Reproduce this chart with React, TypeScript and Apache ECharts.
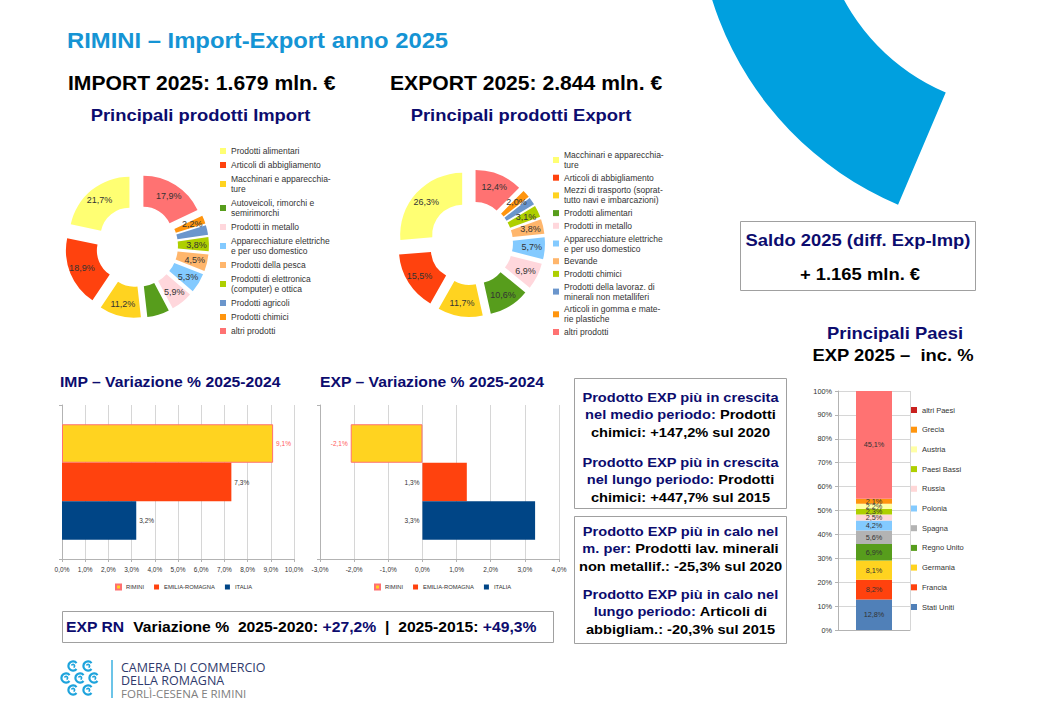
import React, { useEffect, useRef } from "react";
import * as echarts from "echarts";

const FONT = "'Liberation Sans', Arial, Helvetica, sans-serif";
const NAVY = "#0c0c6e";
const SX = 1.083;

// ---- Import products (legend order) ----
const importProducts = [
  "Prodotti alimentari",
  "Articoli di abbigliamento",
  "Macchinari e apparecchiature",
  "Autoveicoli, rimorchi e semirimorchi",
  "Prodotti in metallo",
  "Apparecchiature elettriche e per uso domestico",
  "Prodotti della pesca",
  "Prodotti di elettronica (computer) e ottica",
  "Prodotti agricoli",
  "Prodotti chimici",
  "altri prodotti",
];
const importShares = [21.7, 18.9, 11.2, 6.0, 5.9, 5.3, 4.5, 3.8, 2.6, 2.2, 17.9];

// ---- Export products (legend order) ----
const exportProducts = [
  "Macchinari e apparecchiature",
  "Articoli di abbigliamento",
  "Mezzi di trasporto (soprattutto navi e imbarcazioni)",
  "Prodotti alimentari",
  "Prodotti in metallo",
  "Apparecchiature elettriche e per uso domestico",
  "Bevande",
  "Prodotti chimici",
  "Prodotti della lavoraz. di minerali non metalliferi",
  "Articoli in gomma e materie plastiche",
  "altri prodotti",
];
const exportShares = [26.3, 15.5, 11.7, 10.6, 6.9, 5.7, 3.8, 3.1, 2.0, 2.0, 12.4];

const productColors = [
  "#ffff73", "#ff420e", "#ffd320", "#579d1c", "#ffd7dc", "#83caff",
  "#ffb66c", "#aecf00", "#6b96cc", "#ff950e", "#ff7272",
];

const legendWrap: Record<string, string> = {
  "Macchinari e apparecchiature": "Macchinari e apparecchia-\nture",
  "Autoveicoli, rimorchi e semirimorchi": "Autoveicoli, rimorchi e\nsemirimorchi",
  "Apparecchiature elettriche e per uso domestico": "Apparecchiature elettriche\ne per uso domestico",
  "Prodotti di elettronica (computer) e ottica": "Prodotti di elettronica\n(computer) e ottica",
  "Mezzi di trasporto (soprattutto navi e imbarcazioni)": "Mezzi di trasporto (soprat-\ntutto navi e imbarcazioni)",
  "Prodotti della lavoraz. di minerali non metalliferi": "Prodotti della lavoraz. di\nminerali non metalliferi",
  "Articoli in gomma e materie plastiche": "Articoli in gomma e mate-\nrie plastiche",
};

// ---- Variazione % 2025-2024 ----
const areas = ["RIMINI", "EMILIA-ROMAGNA", "ITALIA"];
const areaColors = ["#ffd320", "#ff420e", "#004586"];
const impVariation = [9.1, 7.3, 3.2];
const expVariation = [-2.1, 1.3, 3.3];
const periodCategory = ["2025/2024"];

// ---- Principali Paesi EXP 2025 ----
const countries = [
  "Stati Uniti", "Francia", "Germania", "Regno Unito", "Spagna", "Polonia",
  "Russia", "Paesi Bassi", "Austria", "Grecia", "altri Paesi",
];
const countryShares = [12.8, 8.2, 8.1, 6.9, 5.6, 4.2, 2.5, 2.3, 2.2, 2.1, 45.1];
const countryColors = [
  "#5080b8", "#ff420e", "#ffd320", "#579d1c", "#b3b3b3", "#83caff",
  "#ffd7d7", "#aecf00", "#ffffa6", "#ff950e", "#ff7272",
];
const countryLegendColors = [
  "#5080b8", "#ff420e", "#ffd320", "#579d1c", "#b3b3b3", "#83caff",
  "#ffd7d7", "#aecf00", "#ffffa6", "#ff950e", "#c9211e",
];
const countryCategory = ["EXP 2025"];

const pct = (v: number) => v.toFixed(1).replace(".", ",") + "%";

function txt(x: number, y: number, text: string, size: number, fill: string, align = "left", extra: any = {}) {
  return {
    type: "text",
    x,
    y,
    scaleX: SX,
    silent: true,
    style: {
      text,
      fontSize: size,
      fontWeight: "bold",
      fontFamily: FONT,
      fill,
      align,
      verticalAlign: "middle",
      ...extra,
    },
  };
}

function richPara(x: number, y: number, text: string, size: number, lh: number, align = "center") {
  const base = { fontSize: size, fontWeight: "bold", fontFamily: FONT, lineHeight: lh };
  return {
    type: "text",
    x,
    y,
    scaleX: SX,
    silent: true,
    style: {
      text,
      ...base,
      fill: "#000",
      align,
      verticalAlign: "top",
      rich: {
        n: { ...base, fill: NAVY },
        k: { ...base, fill: "#000" },
      },
    },
  };
}

const LOGO = "#1da3dc";
function swirl(cx: number, cy: number, rot: number) {
  return [
    {
      type: "arc",
      silent: true,
      shape: { cx, cy, r: 4.6, startAngle: rot + 0.7, endAngle: rot + 5.6 },
      style: { stroke: LOGO, lineWidth: 2.2, fill: "none" },
    },
    {
      type: "arc",
      silent: true,
      shape: { cx, cy, r: 1.6, startAngle: rot + 3.5, endAngle: rot + 7.5 },
      style: { stroke: LOGO, lineWidth: 1.6, fill: "none" },
    },
  ];
}

function pieSeries(names: string[], values: number[], center: number[], radius: number[]) {
  const data = names
    .map((n, i) => ({ name: n, value: values[i], selected: true, itemStyle: { color: productColors[i] } }))
    .reverse();
  return {
    type: "pie",
    center,
    radius,
    startAngle: 90,
    clockwise: true,
    selectedMode: "multiple",
    selectedOffset: 12,
    avoidLabelOverlap: false,
    label: {
      show: true,
      position: "inside",
      formatter: (p: any) => pct(p.value),
      fontSize: 9,
      fontFamily: FONT,
      color: "#333",
    },
    labelLine: { show: false },
    emphasis: { disabled: true },
    data,
  };
}

function pieLegend(names: string[], left: number, top: number, gap: number) {
  return {
    orient: "vertical",
    left,
    top,
    padding: 0,
    itemWidth: 6,
    itemHeight: 6,
    itemGap: gap,
    icon: "rect",
    selectedMode: false,
    textStyle: { fontSize: 8.5, fontFamily: FONT, color: "#333", lineHeight: 10 },
    formatter: (n: string) => legendWrap[n] || n,
    data: names.map((n, i) => ({ name: n, itemStyle: { color: productColors[i] } })),
  };
}

const axisGray = "#b3b3b3";
const gridGray = "#d6d6d6";

function varSeries(values: number[], xi: number, labelPos: string) {
  return areas.map((a, i) => ({
    type: "bar",
    name: a,
    xAxisIndex: xi,
    yAxisIndex: xi,
    barGap: "0%",
    barCategoryGap: "25%",
    itemStyle:
      i === 0
        ? { color: areaColors[i], borderColor: "#ff7070", borderWidth: 1 }
        : { color: areaColors[i] },
    label: {
      show: true,
      position: labelPos,
      formatter: (p: any) => pct(p.value),
      fontSize: 6.5,
      fontFamily: FONT,
      color: i === 0 ? "#ff5a5a" : "#333",
      distance: 3,
    },
    emphasis: { disabled: true },
    data: [values[i]],
  }));
}

function valueXAxis(gridIndex: number, min: number, max: number) {
  return {
    type: "value",
    gridIndex,
    min,
    max,
    interval: 1,
    axisLine: { show: true, onZero: false, lineStyle: { color: axisGray } },
    axisTick: { show: true, length: 3, lineStyle: { color: axisGray } },
    axisLabel: { fontSize: 6.5, fontFamily: FONT, color: "#333", margin: 7, formatter: (v: number) => pct(v) },
    splitLine: { show: true, lineStyle: { color: gridGray } },
  };
}

function catYAxis(gridIndex: number) {
  return {
    type: "category",
    gridIndex,
    data: periodCategory,
    inverse: true,
    axisLine: { show: true, onZero: false, lineStyle: { color: axisGray } },
    axisTick: { show: true, length: 3, lineStyle: { color: axisGray } },
    axisLabel: { show: false },
  };
}

function barLegend(left: number) {
  return {
    orient: "horizontal",
    left,
    top: 583,
    padding: 0,
    itemWidth: 5,
    itemHeight: 5,
    itemGap: 10,
    icon: "rect",
    selectedMode: false,
    textStyle: { fontSize: 5.8, fontFamily: FONT, color: "#333", lineHeight: 8 },
    data: areas,
  };
}

export default function App() {
  const ref = useRef<HTMLDivElement>(null);

  useEffect(() => {
    if (!ref.current) return;
    const chart = echarts.init(ref.current, undefined, { renderer: "svg" });

    const graphics: any[] = [
      // top-right decorative arc
      {
        type: "sector",
        silent: true,
        shape: {
          cx: 1027,
          cy: -99,
          r: 330,
          r0: 208,
          startAngle: (113 * Math.PI) / 180,
          endAngle: (205 * Math.PI) / 180,
          clockwise: true,
        },
        style: { fill: "#00a0df" },
      },
      txt(67, 40, "RIMINI – Import-Export anno 2025", 22, "#1594d4"),
      txt(68, 83, "IMPORT 2025: 1.679 mln. €", 19.5, "#000"),
      txt(390, 83, "EXPORT 2025: 2.844 mln. €", 19.5, "#000"),
      txt(200.5, 115, "Principali prodotti Import", 17, NAVY, "center"),
      txt(521, 115, "Principali prodotti Export", 17, NAVY, "center"),
      // saldo box
      {
        type: "rect",
        silent: true,
        shape: { x: 740.5, y: 221.5, width: 235, height: 69 },
        style: { fill: "none", stroke: "#a0a0a0", lineWidth: 1 },
      },
      txt(858, 240, "Saldo 2025 (diff. Exp-Imp)", 17, NAVY, "center"),
      txt(860, 274, "+ 1.165 mln. €", 17, "#000", "center"),
      txt(895, 333, "Principali Paesi", 17, NAVY, "center"),
      txt(893, 355, "EXP 2025 –  inc. %", 17, "#000", "center"),
      txt(60, 382, "IMP – Variazione % 2025-2024", 14.5, NAVY),
      txt(320, 382, "EXP – Variazione % 2025-2024", 14.5, NAVY),
      // text boxes
      {
        type: "rect",
        silent: true,
        shape: { x: 574.5, y: 378.5, width: 212, height: 130 },
        style: { fill: "none", stroke: "#a0a0a0", lineWidth: 1 },
      },
      {
        type: "rect",
        silent: true,
        shape: { x: 574.5, y: 516.5, width: 212, height: 127 },
        style: { fill: "none", stroke: "#a0a0a0", lineWidth: 1 },
      },
      richPara(680.5, 388, "{n|Prodotto EXP più in crescita}\n{n|nel medio periodo:}{k| Prodotti}\n{k|chimici: +147,2% sul 2020}", 13.5, 17.5),
      richPara(680.5, 453, "{n|Prodotto EXP più in crescita}\n{n|nel lungo periodo:}{k| Prodotti}\n{k|chimici: +447,7% sul 2015}", 13.5, 17.5),
      richPara(680.5, 522, "{n|Prodotto EXP più in calo nel}\n{n|m. per:}{k| Prodotti lav. minerali}\n{k|non metallif.: -25,3% sul 2020}", 13.5, 17.5),
      richPara(680.5, 585, "{n|Prodotto EXP più in calo nel}\n{n|lungo periodo:}{k| Articoli di}\n{k|abbigliam.: -20,3% sul 2015}", 13.5, 17.5),
      // bottom box
      {
        type: "rect",
        silent: true,
        shape: { x: 62.5, y: 611.5, width: 491, height: 31 },
        style: { fill: "none", stroke: "#a0a0a0", lineWidth: 1 },
      },
      richPara(66, 618, "{n|EXP RN}{k|  Variazione %  2025-2020: }{n|+27,2%}{k|  |  2025-2015: }{n|+49,3%}", 14.5, 17, "left"),
      // logo
      ...swirl(73, 666, 0),
      ...swirl(88, 666, 0),
      ...swirl(66, 678, 0),
      ...swirl(80, 678, 0),
      ...swirl(94, 678, 0),
      ...swirl(73, 690, 0),
      ...swirl(88, 690, 0),
      {
        type: "line",
        silent: true,
        shape: { x1: 112, y1: 660, x2: 112, y2: 698 },
        style: { stroke: "#3bb1e0", lineWidth: 1.5 },
      },
      {
        type: "text",
        x: 121,
        y: 667,
        silent: true,
        style: { text: "CAMERA DI COMMERCIO", fontSize: 12.5, fontFamily: "'Open Sans', sans-serif", fill: "#2f3a6c", verticalAlign: "middle" },
      },
      {
        type: "text",
        x: 121,
        y: 680,
        silent: true,
        style: { text: "DELLA ROMAGNA", fontSize: 12.5, fontFamily: "'Open Sans', sans-serif", fill: "#2f3a6c", verticalAlign: "middle" },
      },
      {
        type: "text",
        x: 121,
        y: 693,
        silent: true,
        style: { text: "FORLÌ-CESENA E RIMINI", fontSize: 11.5, fontFamily: "'Open Sans', sans-serif", fill: "#808080", verticalAlign: "middle" },
      },
    ];

    const option: any = {
      animation: false,
      backgroundColor: "#ffffff",
      textStyle: { fontFamily: FONT },
      graphic: { elements: graphics },
      legend: [
        pieLegend(importProducts, 220, 146, 4),
        pieLegend(exportProducts, 553, 150, 2.7),
        barLegend(115),
        barLegend(374),
        {
          orient: "vertical",
          left: 911,
          top: 405,
          padding: 0,
          itemWidth: 6,
          itemHeight: 6,
          itemGap: 9.7,
          icon: "rect",
          selectedMode: false,
          textStyle: { fontSize: 7.5, fontFamily: FONT, color: "#333", lineHeight: 10 },
          data: countries
            .map((c, i) => ({ name: c, itemStyle: { color: countryLegendColors[i] } }))
            .reverse(),
        },
      ],
      grid: [
        { left: 62, top: 405, width: 232, height: 154 },
        { left: 320, top: 405, width: 239, height: 154 },
        { left: 838, top: 391, width: 72, height: 239 },
      ],
      xAxis: [
        valueXAxis(0, 0, 10),
        valueXAxis(1, -3, 4),
        {
          type: "category",
          gridIndex: 2,
          data: countryCategory,
          axisLine: { show: true, lineStyle: { color: axisGray } },
          axisTick: { show: false },
          axisLabel: { show: false },
          splitLine: { show: true, lineStyle: { color: gridGray } },
        },
      ],
      yAxis: [
        catYAxis(0),
        catYAxis(1),
        {
          type: "value",
          gridIndex: 2,
          min: 0,
          max: 100,
          interval: 10,
          axisLine: { show: true, lineStyle: { color: axisGray } },
          axisTick: { show: true, length: 3, lineStyle: { color: axisGray } },
          axisLabel: { fontSize: 7.3, fontFamily: FONT, color: "#333", margin: 6, formatter: (v: number) => v + "%" },
          splitLine: { show: true, lineStyle: { color: gridGray } },
        },
      ],
      series: [
        pieSeries(importProducts, importShares, [137, 246], [29, 60]),
        pieSeries(exportProducts, exportShares, [471, 243], [30, 62]),
        ...varSeries(impVariation, 0, "right"),
        ...varSeries(expVariation, 1, "left"),
        ...countries.map((c, i) => ({
          type: "bar",
          name: c,
          stack: "paesi",
          xAxisIndex: 2,
          yAxisIndex: 2,
          barWidth: 36,
          itemStyle: { color: countryColors[i] },
          label: {
            show: true,
            position: "inside",
            formatter: (p: any) => pct(p.value),
            fontSize: 7.3,
            fontFamily: FONT,
            color: "#333",
          },
          emphasis: { disabled: true },
          data: [countryShares[i]],
        })),
      ],
    };

    chart.setOption(option);
    return () => chart.dispose();
  }, []);

  return (
    <div
      ref={ref}
      style={{ position: "fixed", left: 0, top: 0, width: 1040, height: 720, background: "#fff" }}
    />
  );
}
